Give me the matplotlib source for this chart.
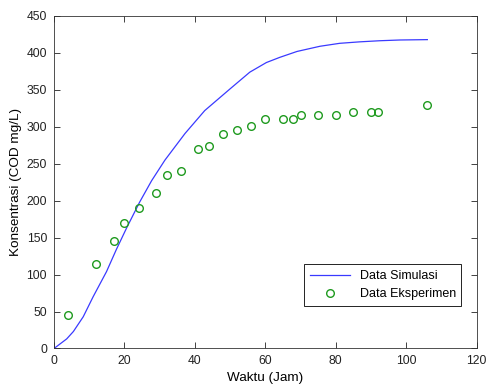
import matplotlib

matplotlib.use("Agg")
import matplotlib.pyplot as plt

# simulation curve
sim_x = [0, 3.6, 5.5, 8.3, 11.1, 14.9, 17.7, 20.6, 24.3, 27.7, 31.5, 37.2,
         42.8, 49.9, 55.6, 60.3, 64.1, 69, 75.5, 81.1, 86.8, 92.5, 98.2, 106]
sim_y = [0, 13, 23, 43, 70, 104, 134, 163, 198, 227, 255, 291,
         322, 351, 374, 387, 394, 402, 409, 413, 415, 416.5, 417.5, 418]

# experimental points
exp_x = [4, 12, 17, 20, 24, 29, 32, 36, 41, 44, 48, 52, 56, 60, 65, 68, 70,
         75, 80, 85, 90, 92, 106]
exp_y = [45, 115, 145, 170, 190, 210, 235, 240, 270, 274, 290, 296, 301, 310,
         310, 310, 316, 316, 316, 320, 320, 320, 330]

plt.rcParams["font.family"] = ["Liberation Sans", "DejaVu Sans"]

fig = plt.figure(figsize=(4.88, 3.87), dpi=100)
ax = fig.add_axes([0.1107, 0.0995, 0.866, 0.8592])

ax.plot(sim_x, sim_y, "-", color="#3a3aff", lw=0.9, label="Data Simulasi")
ax.plot(exp_x, exp_y, "o", mfc="none", mec="#1f9a1f", mew=1.0, ms=5.5,
        label="Data Eksperimen")

ax.set_xlim(0, 120)
ax.set_ylim(0, 450)
ax.set_xticks(range(0, 121, 20))
ax.set_yticks(range(0, 451, 50))
ax.tick_params(direction="in", top=True, right=True, length=4, width=0.6,
               labelsize=8.7, colors="#222222", pad=5)
for s in ax.spines.values():
    s.set_linewidth(0.6)
    s.set_color("#333333")

ax.set_xlabel("Waktu (Jam)", fontsize=9.7, labelpad=3)
ax.set_ylabel("Konsentrasi (COD mg/L)", fontsize=9.7, labelpad=3)

leg = ax.legend(loc="lower right", bbox_to_anchor=(0.964, 0.128), fontsize=9,
                frameon=True, fancybox=False, framealpha=1, edgecolor="black",
                borderpad=0.45, borderaxespad=0, handlelength=3.2,
                labelspacing=0.5)
leg.get_frame().set_linewidth(0.6)

fig.savefig("out.png", dpi=100)
plt.close(fig)
